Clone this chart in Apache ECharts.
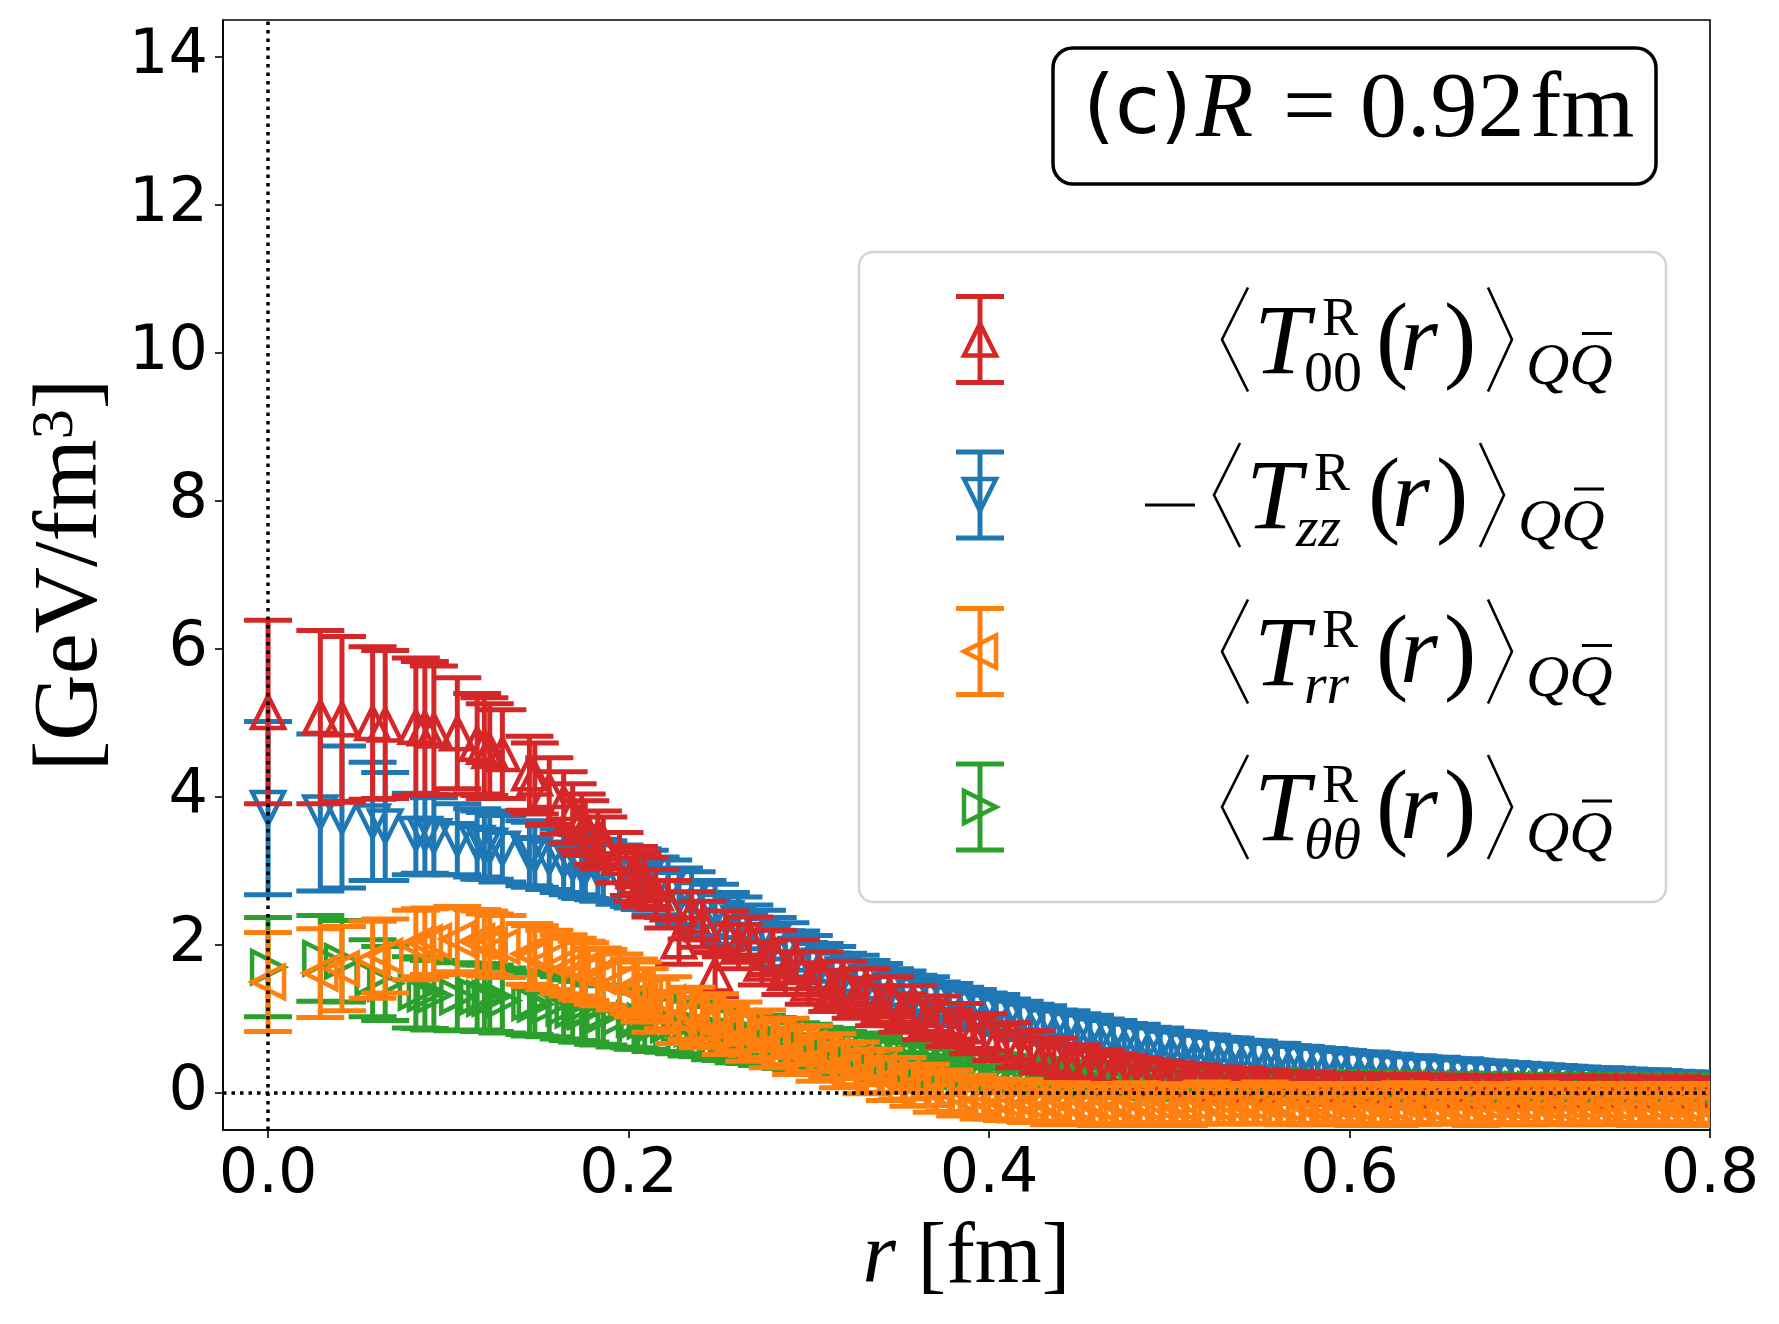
<!DOCTYPE html>
<html>
<head>
<meta charset="utf-8">
<script src="https://cdn.jsdelivr.net/npm/echarts@6/dist/echarts.min.js"></script>
<style>
  html, body { margin: 0; padding: 0; background: #fff; }
  #chart { width: 1779px; height: 1324px; }
</style>
</head>
<body>
<div id="chart"></div>
<script>
// r positions [fm]: lattice sites up to 0.205 fm, then a dense sampling out to 0.8 fm
var rVals = [
  0, 0.029, 0.041, 0.058, 0.065, 0.082, 0.087, 0.092, 0.105, 0.116,
  0.120, 0.123, 0.130, 0.145, 0.148, 0.156, 0.164, 0.169, 0.174, 0.176,
  0.183, 0.186, 0.195, 0.203, 0.205,
  0.209, 0.215, 0.222, 0.228, 0.235, 0.241, 0.248, 0.254, 0.261, 0.267,
  0.274, 0.280, 0.287, 0.293, 0.300, 0.306, 0.313, 0.319, 0.326, 0.332,
  0.339, 0.345, 0.352, 0.358, 0.365, 0.371, 0.378, 0.384, 0.391, 0.397,
  0.404, 0.410, 0.417, 0.423, 0.430, 0.436, 0.443, 0.449, 0.456, 0.462,
  0.469, 0.475, 0.482, 0.488, 0.495, 0.501, 0.508, 0.514, 0.521, 0.527,
  0.534, 0.540, 0.547, 0.553, 0.560, 0.566, 0.573, 0.579, 0.586, 0.592,
  0.599, 0.605, 0.612, 0.618, 0.625, 0.631, 0.638, 0.644, 0.651, 0.657,
  0.664, 0.670, 0.677, 0.683, 0.690, 0.696, 0.703, 0.709, 0.716, 0.722,
  0.729, 0.735, 0.742, 0.748, 0.755, 0.761, 0.768, 0.774, 0.781, 0.787,
  0.794, 0.800
];

// <T00>
var t00 = [
  5.15, 5.08, 5.05, 5.00, 4.98, 4.95, 4.93, 4.90, 4.86, 4.72,
  4.68, 4.62, 4.58, 4.32, 4.25, 4.08, 3.92, 3.78, 3.66, 3.58,
  3.45, 3.38, 3.18, 3.00, 2.92,
  2.85, 2.70, 2.55, 2.05, 2.40, 2.28, 1.60, 2.15, 1.98, 2.08,
  1.75, 1.90, 1.62, 1.78, 1.48, 1.62, 1.38, 1.50, 1.28, 1.40,
  1.18, 1.30, 1.08, 1.18, 0.98, 1.05, 0.88, 0.95, 0.78, 0.82,
  0.68, 0.70, 0.58, 0.60, 0.50, 0.50, 0.42, 0.42, 0.36, 0.35,
  0.30, 0.29, 0.25, 0.24, 0.21, 0.20, 0.17, 0.17, 0.14, 0.14,
  0.12, 0.12, 0.10, 0.10, 0.08, 0.09, 0.07, 0.07, 0.06, 0.06,
  0.05, 0.05, 0.04, 0.05, 0.04, 0.04, 0.03, 0.04, 0.03, 0.03,
  0.02, 0.03, 0.02, 0.03, 0.02, 0.02, 0.01, 0.02, 0.02, 0.01,
  0.02, 0.01, 0.01, 0.02, 0.01, 0.01, 0.00, 0.01, 0.01, 0.00,
  0.01, 0.00
];
var t00Err = [
  1.24, 1.17, 1.12, 1.03, 1.00, 0.93, 0.90, 0.87, 0.75, 0.68,
  0.66, 0.64, 0.60, 0.50, 0.48, 0.45, 0.42, 0.40, 0.38, 0.37,
  0.36, 0.35, 0.34, 0.33, 0.33,
  0.33, 0.32, 0.32, 0.31, 0.32, 0.31, 0.30, 0.31, 0.30, 0.30,
  0.29, 0.30, 0.29, 0.29, 0.28, 0.29, 0.28, 0.28, 0.27, 0.28,
  0.27, 0.27, 0.26, 0.27, 0.26, 0.26, 0.25, 0.26, 0.25, 0.25,
  0.24, 0.25, 0.24, 0.24, 0.23, 0.24, 0.23, 0.23, 0.22, 0.23,
  0.22, 0.22, 0.22, 0.21, 0.22, 0.21, 0.21, 0.21, 0.20, 0.21,
  0.20, 0.21, 0.20, 0.20, 0.21, 0.20, 0.20, 0.21, 0.20, 0.20,
  0.20, 0.21, 0.20, 0.20, 0.20, 0.21, 0.20, 0.20, 0.20, 0.21,
  0.20, 0.20, 0.21, 0.20, 0.20, 0.20, 0.21, 0.20, 0.20, 0.20,
  0.21, 0.20, 0.20, 0.20, 0.21, 0.20, 0.20, 0.20, 0.21, 0.20,
  0.20, 0.20
];

// -<Tzz>
var tzz = [
  3.85, 3.79, 3.73, 3.67, 3.60, 3.50, 3.50, 3.47, 3.43, 3.38,
  3.35, 3.34, 3.30, 3.24, 3.22, 3.18, 3.14, 3.10, 3.07, 3.05,
  3.02, 3.00, 2.95, 2.92, 2.90,
  2.88, 2.80, 2.76, 2.66, 2.62, 2.50, 2.46, 2.36, 2.30, 2.20,
  2.14, 2.04, 1.98, 1.88, 1.82, 1.72, 1.68, 1.60, 1.57, 1.50,
  1.47, 1.40, 1.38, 1.32, 1.30, 1.24, 1.22, 1.17, 1.15, 1.10,
  1.08, 1.03, 1.00, 0.96, 0.94, 0.89, 0.88, 0.84, 0.82, 0.78,
  0.76, 0.72, 0.71, 0.67, 0.66, 0.62, 0.61, 0.58, 0.57, 0.54,
  0.53, 0.50, 0.49, 0.46, 0.46, 0.43, 0.42, 0.40, 0.39, 0.37,
  0.36, 0.34, 0.34, 0.32, 0.31, 0.29, 0.29, 0.27, 0.27, 0.25,
  0.25, 0.23, 0.22, 0.21, 0.20, 0.19, 0.18, 0.17, 0.16, 0.15,
  0.14, 0.13, 0.13, 0.12, 0.11, 0.10, 0.10, 0.09, 0.08, 0.07,
  0.07, 0.06
];
var tzzErr = [
  1.17, 1.06, 0.96, 0.80, 0.73, 0.55, 0.53, 0.52, 0.48, 0.46,
  0.46, 0.45, 0.45, 0.44, 0.44, 0.43, 0.43, 0.42, 0.42, 0.42,
  0.41, 0.41, 0.40, 0.40, 0.40,
  0.40, 0.39, 0.39, 0.38, 0.37, 0.37, 0.36, 0.35, 0.35, 0.34,
  0.33, 0.33, 0.32, 0.31, 0.31, 0.30, 0.30, 0.29, 0.29, 0.29,
  0.28, 0.28, 0.27, 0.27, 0.27, 0.26, 0.26, 0.26, 0.25, 0.25,
  0.25, 0.24, 0.24, 0.24, 0.24, 0.23, 0.23, 0.23, 0.23, 0.22,
  0.22, 0.22, 0.22, 0.22, 0.22, 0.21, 0.21, 0.21, 0.21, 0.21,
  0.21, 0.21, 0.21, 0.21, 0.21, 0.21, 0.21, 0.21, 0.21, 0.21,
  0.20, 0.20, 0.20, 0.20, 0.20, 0.20, 0.20, 0.20, 0.20, 0.20,
  0.20, 0.20, 0.20, 0.20, 0.20, 0.20, 0.20, 0.20, 0.20, 0.20,
  0.20, 0.20, 0.20, 0.20, 0.20, 0.20, 0.20, 0.20, 0.20, 0.20,
  0.20, 0.20
];

// <Trr>
var trr = [
  1.50, 1.62, 1.68, 1.80, 1.85, 2.00, 2.03, 2.05, 2.08, 2.05,
  2.03, 2.00, 1.98, 1.88, 1.85, 1.80, 1.74, 1.70, 1.66, 1.64,
  1.58, 1.56, 1.50, 1.44, 1.40,
  1.32, 1.18, 1.22, 1.02, 1.08, 0.95, 1.00, 0.85, 0.90, 0.76,
  0.80, 0.66, 0.70, 0.56, 0.60, 0.46, 0.50, 0.37, 0.40, 0.28,
  0.30, 0.19, 0.20, 0.10, 0.11, 0.02, 0.03, -0.04, -0.03, -0.08,
  -0.08, -0.11, -0.10, -0.13, -0.12, -0.15, -0.13, -0.16, -0.14, -0.16,
  -0.14, -0.16, -0.13, -0.16, -0.15, -0.14, -0.17, -0.15, -0.13, -0.16,
  -0.15, -0.14, -0.16, -0.13, -0.15, -0.17, -0.14, -0.15, -0.16, -0.13,
  -0.15, -0.16, -0.14, -0.15, -0.17, -0.13, -0.15, -0.16, -0.14, -0.15,
  -0.13, -0.16, -0.15, -0.14, -0.16, -0.15, -0.13, -0.15, -0.16, -0.14,
  -0.15, -0.13, -0.16, -0.15, -0.14, -0.16, -0.15, -0.13, -0.15, -0.16,
  -0.14, -0.15
];
var trrErr = [
  0.67, 0.60, 0.57, 0.52, 0.50, 0.47, 0.46, 0.45, 0.44, 0.43,
  0.43, 0.42, 0.42, 0.41, 0.41, 0.40, 0.40, 0.39, 0.39, 0.39,
  0.38, 0.38, 0.38, 0.37, 0.37,
  0.36, 0.36, 0.35, 0.35, 0.35, 0.34, 0.34, 0.33, 0.33, 0.33,
  0.32, 0.32, 0.31, 0.31, 0.31, 0.30, 0.30, 0.30, 0.29, 0.29,
  0.29, 0.29, 0.28, 0.28, 0.28, 0.28, 0.28, 0.27, 0.27, 0.27,
  0.27, 0.26, 0.28, 0.27, 0.26, 0.28, 0.27, 0.26, 0.27, 0.28,
  0.27, 0.26, 0.27, 0.28, 0.27, 0.26, 0.27, 0.27, 0.28, 0.26,
  0.27, 0.27, 0.26, 0.28, 0.27, 0.26, 0.27, 0.28, 0.27, 0.26,
  0.27, 0.28, 0.27, 0.26, 0.27, 0.27, 0.28, 0.26, 0.27, 0.27,
  0.26, 0.28, 0.27, 0.26, 0.27, 0.28, 0.27, 0.26, 0.27, 0.27,
  0.28, 0.26, 0.27, 0.27, 0.26, 0.28, 0.27, 0.26, 0.27, 0.28,
  0.27, 0.26
];

// <Ttheta theta>
var ttt = [
  1.70, 1.82, 1.78, 1.55, 1.48, 1.36, 1.34, 1.32, 1.30, 1.30,
  1.28, 1.28, 1.25, 1.22, 1.20, 1.18, 1.15, 1.12, 1.10, 1.10,
  1.06, 1.05, 1.02, 1.00, 0.98,
  0.97, 0.94, 0.92, 0.90, 0.87, 0.85, 0.81, 0.79, 0.76, 0.74,
  0.71, 0.69, 0.66, 0.63, 0.61, 0.58, 0.56, 0.53, 0.51, 0.49,
  0.47, 0.44, 0.42, 0.40, 0.38, 0.36, 0.34, 0.33, 0.31, 0.29,
  0.28, 0.26, 0.25, 0.24, 0.23, 0.21, 0.20, 0.19, 0.18, 0.18,
  0.17, 0.16, 0.15, 0.15, 0.14, 0.14, 0.13, 0.13, 0.12, 0.12,
  0.11, 0.11, 0.10, 0.10, 0.10, 0.09, 0.09, 0.09, 0.08, 0.08,
  0.08, 0.08, 0.07, 0.07, 0.07, 0.07, 0.06, 0.06, 0.06, 0.06,
  0.06, 0.05, 0.06, 0.05, 0.05, 0.05, 0.05, 0.05, 0.04, 0.05,
  0.04, 0.05, 0.04, 0.04, 0.04, 0.04, 0.04, 0.03, 0.04, 0.04,
  0.03, 0.04
];
var tttErr = [
  0.67, 0.58, 0.55, 0.52, 0.50, 0.48, 0.47, 0.47, 0.46, 0.45,
  0.45, 0.45, 0.44, 0.43, 0.43, 0.42, 0.42, 0.41, 0.41, 0.41,
  0.40, 0.40, 0.40, 0.39, 0.39,
  0.38, 0.38, 0.37, 0.37, 0.37, 0.36, 0.36, 0.35, 0.35, 0.34,
  0.34, 0.33, 0.33, 0.32, 0.32, 0.31, 0.31, 0.30, 0.30, 0.29,
  0.29, 0.28, 0.28, 0.28, 0.27, 0.27, 0.26, 0.26, 0.26, 0.25,
  0.25, 0.25, 0.24, 0.24, 0.24, 0.23, 0.23, 0.23, 0.23, 0.22,
  0.22, 0.22, 0.22, 0.22, 0.21, 0.21, 0.21, 0.21, 0.21, 0.21,
  0.20, 0.20, 0.20, 0.20, 0.20, 0.20, 0.20, 0.20, 0.20, 0.20,
  0.20, 0.20, 0.20, 0.20, 0.20, 0.20, 0.20, 0.20, 0.20, 0.20,
  0.20, 0.20, 0.20, 0.20, 0.20, 0.20, 0.20, 0.20, 0.20, 0.20,
  0.20, 0.20, 0.20, 0.20, 0.20, 0.20, 0.20, 0.20, 0.20, 0.20,
  0.20, 0.20
];

var xTicks = [0, 0.2, 0.4, 0.6, 0.8];
var yTicks = [0, 2, 4, 6, 8, 10, 12, 14];

var RED = '#d62728', BLUE = '#1f77b4', ORANGE = '#ff7f0e', GREEN = '#2ca02c';
var SERIF = '"Liberation Serif"';
var CAP = 24, TRI = 16;

// error bar + hollow triangle, in pixels
function glyph(cx, cy, ty, by, color, dir) {
    var h = TRI, pts;
    if (dir === 'up') pts = [[cx, cy - h], [cx - h, cy + h], [cx + h, cy + h]];
    else if (dir === 'down') pts = [[cx, cy + h], [cx - h, cy - h], [cx + h, cy - h]];
    else if (dir === 'left') pts = [[cx - h, cy], [cx + h, cy - h], [cx + h, cy + h]];
    else pts = [[cx + h, cy], [cx - h, cy - h], [cx - h, cy + h]];
    return [
        { type: 'line', shape: { x1: cx, y1: ty, x2: cx, y2: by }, style: { stroke: color, lineWidth: 5 } },
        { type: 'line', shape: { x1: cx - CAP, y1: ty, x2: cx + CAP, y2: ty }, style: { stroke: color, lineWidth: 5 } },
        { type: 'line', shape: { x1: cx - CAP, y1: by, x2: cx + CAP, y2: by }, style: { stroke: color, lineWidth: 5 } },
        { type: 'polygon', shape: { points: pts }, style: { fill: 'none', stroke: color, lineWidth: 4.5, lineJoin: 'miter' } }
    ];
}

function errSeries(name, vals, errs, color, dir) {
    return {
        name: name,
        type: 'custom',
        clip: true,
        silent: true,
        encode: { x: 0, y: 1 },
        data: rVals.map(function (r, i) { return [r, vals[i], errs[i]]; }),
        renderItem: function (params, api) {
            var x = api.value(0), y = api.value(1), e = api.value(2);
            var c = api.coord([x, y]);
            var t = api.coord([x, y + e]);
            var b = api.coord([x, y - e]);
            return { type: 'group', children: glyph(c[0], c[1], t[1], b[1], color, dir) };
        }
    };
}

function txt(x, y, s, font) {
    return {
        type: 'text', x: x, y: y,
        style: { text: s, fill: '#000', font: font, align: 'left', verticalAlign: 'middle' }
    };
}

// legend, drawn by hand because the labels are math
var legendRows = [
    { y: 339.5, color: RED, dir: 'up', sub: '00', subItalic: false, minus: false, dx: 0 },
    { y: 495, color: BLUE, dir: 'down', sub: 'zz', subItalic: true, minus: true, dx: -8 },
    { y: 651.5, color: ORANGE, dir: 'left', sub: 'rr', subItalic: true, minus: false, dx: 0 },
    { y: 807, color: GREEN, dir: 'right', sub: '\u03b8\u03b8', subItalic: true, minus: false, dx: 0 }
];

function legendEntry(row) {
    var cb = row.y, d = row.dx, out = [];
    out = out.concat(glyph(980, cb, cb - 43, cb + 43, row.color, row.dir));
    if (row.minus) {
        out.push({ type: 'line', shape: { x1: 1145, y1: cb + 10, x2: 1195, y2: cb + 10 }, style: { stroke: '#000', lineWidth: 3 } });
    }
    out.push({ type: 'polyline', shape: { points: [[1248 + d, cb - 52], [1222 + d, cb], [1248 + d, cb + 52]] },
        style: { stroke: '#000', lineWidth: 2.6, fill: 'none' } });
    out.push(txt(1254 + d, cb + 7, 'T', 'italic 100px ' + SERIF));
    out.push(txt(1322 + d, cb - 19, 'R', '54px ' + SERIF));
    out.push(txt(1304 + d, cb + 36, row.sub, (row.subItalic ? 'italic ' : '') + '58px ' + SERIF));
    out.push(txt(1376 + d, cb + 5, '(', '97px ' + SERIF));
    out.push(txt(1400 + d, cb + 5, 'r', 'italic 97px ' + SERIF));
    out.push(txt(1444 + d, cb + 5, ')', '97px ' + SERIF));
    out.push({ type: 'polyline', shape: { points: [[1488 + d, cb - 52], [1512 + d, cb], [1488 + d, cb + 52]] },
        style: { stroke: '#000', lineWidth: 2.6, fill: 'none' } });
    out.push(txt(1526 + d, cb + 29, 'QQ', 'italic 60px ' + SERIF));
    out.push({ type: 'line', shape: { x1: 1582 + d, y1: cb - 6, x2: 1612 + d, y2: cb - 6 }, style: { stroke: '#000', lineWidth: 3 } });
    return out;
}

var legendChildren = [{
    type: 'rect', shape: { x: 859, y: 252, width: 807, height: 650, r: 14 },
    style: { fill: 'rgba(255,255,255,0.8)', stroke: '#d4d4d4', lineWidth: 2.5 }
}];
legendRows.forEach(function (row) { legendChildren = legendChildren.concat(legendEntry(row)); });

var titleChildren = [
    { type: 'rect', shape: { x: 1053, y: 48, width: 603, height: 136, r: 20 },
      style: { fill: '#fff', stroke: '#000', lineWidth: 3.5 } },
    txt(1083, 112, '(c)', '82px "DejaVu Sans"'),
    txt(1196, 111, 'R', 'italic 94px ' + SERIF),
    txt(1283, 111, '=', '94px ' + SERIF),
    txt(1360, 111, '0.92', '94px ' + SERIF),
    txt(1530, 111, 'fm', '94px ' + SERIF)
];

var chart = echarts.init(document.getElementById('chart'));
var option = {
    animation: false,
    backgroundColor: '#fff',
    grid: { left: 223, right: 69, top: 20, bottom: 194, show: true, borderColor: '#000', borderWidth: 1.6, backgroundColor: 'transparent' },
    xAxis: {
        type: 'value', min: -0.025, max: 0.8,
        axisLine: { show: true, onZero: false, lineStyle: { color: '#000', width: 1.6 } },
        axisTick: { show: true, inside: false, length: 8, customValues: xTicks, lineStyle: { color: '#000', width: 1.6 } },
        axisLabel: { customValues: xTicks, margin: 15, fontFamily: 'DejaVu Sans', fontSize: 62, lineHeight: 62, color: '#000',
            formatter: function (v) { return v.toFixed(1); } },
        splitLine: { show: false },
        name: '{i|r}{n| [fm]}', nameLocation: 'middle', nameGap: 86,
        nameTextStyle: { rich: {
            i: { fontFamily: 'Liberation Serif', fontStyle: 'italic', fontSize: 86, color: '#000' },
            n: { fontFamily: 'Liberation Serif', fontSize: 86, color: '#000' }
        } }
    },
    yAxis: {
        type: 'value', min: -0.5, max: 14.5,
        axisLine: { show: true, onZero: false, lineStyle: { color: '#000', width: 1.6 } },
        axisTick: { show: true, inside: false, length: 8, customValues: yTicks, lineStyle: { color: '#000', width: 1.6 } },
        axisLabel: { customValues: yTicks, margin: 15, fontFamily: 'DejaVu Sans', fontSize: 62, lineHeight: 62, color: '#000' },
        splitLine: { show: false },
        name: '{n|[GeV/fm}{s|3}{n|]}', nameLocation: 'middle', nameGap: 104, nameRotate: 90,
        nameTextStyle: { rich: {
            n: { fontFamily: 'Liberation Serif', fontSize: 92, lineHeight: 92, color: '#000' },
            s: { fontFamily: 'Liberation Serif', fontSize: 60, lineHeight: 60, verticalAlign: 'top', color: '#000' }
        } }
    },
    graphic: [
        { type: 'group', z: 100, children: legendChildren },
        { type: 'group', z: 100, children: titleChildren }
    ],
    series: [
        errSeries('-Tzz', tzz, tzzErr, BLUE, 'down'),
        errSeries('Ttt', ttt, tttErr, GREEN, 'right'),
        errSeries('T00', t00, t00Err, RED, 'up'),
        errSeries('Trr', trr, trrErr, ORANGE, 'left'),
        {
            type: 'line', data: [], silent: true, z: 20,
            markLine: {
                silent: true, symbol: ['none', 'none'], label: { show: false },
                lineStyle: { color: '#000', type: [3.5, 5], width: 3.5 },
                data: [{ xAxis: 0 }, { yAxis: 0 }]
            }
        }
    ]
};
chart.setOption(option);
</script>
</body>
</html>
